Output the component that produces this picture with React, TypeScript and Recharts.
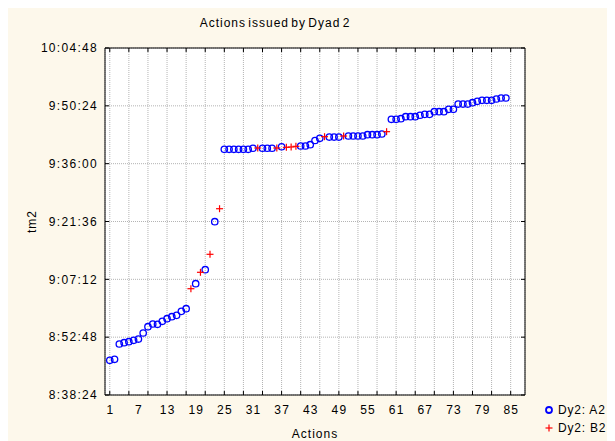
import React from 'react';
import { ScatterChart, Scatter, XAxis, YAxis, CartesianGrid, Legend } from 'recharts';

const TITLE = 'Actions issued by Dyad 2';
const X_LABEL = 'Actions';
const Y_LABEL = 'tm2';
const X_LABEL_TICKS = [1, 7, 13, 19, 25, 31, 37, 43, 49, 55, 61, 67, 73, 79, 85];
const X_MARK_TICKS = [1, 5, 9, 13, 17, 21, 25, 29, 33, 37, 41, 45, 49, 53, 57, 61, 65, 69, 73, 77, 81, 85];
const X_DOMAIN = [0, 88];
const Y_TICK_LABELS = ['8:38:24', '8:52:48', '9:07:12', '9:21:36', '9:36:00', '9:50:24', '10:04:48'];

const SERIES_NAMES = ['Dy2: A2', 'Dy2: B2'];

const A2_ACTIONS = [
  1, 2, 3, 4, 5, 6, 7, 8, 9, 10, 11, 12, 13, 14, 15, 16, 17,
  19, 21, 23,
  25, 26, 27, 28, 29, 30, 31, 33, 34, 35, 37,
  41, 42, 43, 44, 45, 47, 48, 49,
  51, 52, 53, 54, 55, 56, 57, 58,
  60, 61, 62, 63, 64, 65, 66, 67, 68, 69, 70, 71, 72, 73, 74, 75, 76, 77, 78, 79, 80, 81, 82, 83, 84,
];
const A2_TIMES = [
  '8:47:02', '8:47:17', '8:51:06', '8:51:25', '8:51:40', '8:52:01', '8:52:20', '8:53:50', '8:55:24',
  '8:56:05', '8:56:00', '8:56:45', '8:57:24', '8:57:54', '8:58:14', '8:59:14', '8:59:53',
  '9:06:07', '9:09:36', '9:21:33',
  '9:39:35', '9:39:35', '9:39:35', '9:39:35', '9:39:35', '9:39:35', '9:39:50', '9:39:50', '9:39:50', '9:39:50', '9:40:13',
  '9:40:24', '9:40:24', '9:40:43', '9:41:46', '9:42:19', '9:42:38', '9:42:38', '9:42:38',
  '9:42:53', '9:42:53', '9:42:53', '9:42:53', '9:43:13', '9:43:13', '9:43:13', '9:43:23',
  '9:47:03', '9:47:03', '9:47:12', '9:47:42', '9:47:42', '9:47:42', '9:48:03', '9:48:17', '9:48:17',
  '9:48:56', '9:48:56', '9:48:56', '9:49:32', '9:49:32', '9:50:51', '9:50:51', '9:50:51', '9:51:11',
  '9:51:32', '9:51:47', '9:51:47', '9:51:47', '9:52:06', '9:52:21', '9:52:21',
];

const B2_ACTIONS = [18, 20, 22, 24, 32, 36, 38, 39, 40, 46, 50, 59];
const B2_TIMES = [
  '9:04:52', '9:08:57', '9:13:26', '9:24:47', '9:39:54', '9:39:54',
  '9:40:04', '9:40:09', '9:40:19', '9:42:43', '9:42:53', '9:43:58',
];

const FONT = '"Liberation Sans", Arial, sans-serif';
const BG = '#FDF8EB';

const toSec = (s: string) => {
  const [h, m, sec] = s.split(':').map(Number);
  return h * 3600 + m * 60 + sec;
};

const Y_TICKS = Y_TICK_LABELS.map(toSec);
const Y_DOMAIN = [Y_TICKS[0], Y_TICKS[Y_TICKS.length - 1]];
const Y_LABEL_OF: Record<number, string> = {};
Y_TICK_LABELS.forEach((l) => { Y_LABEL_OF[toSec(l)] = l; });

const a2Data = A2_ACTIONS.map((x, i) => ({ x, y: toSec(A2_TIMES[i]) }));
const b2Data = B2_ACTIONS.map((x, i) => ({ x, y: toSec(B2_TIMES[i]) }));

const BOTTOM_TICKS = Array.from(new Set([...X_MARK_TICKS, ...X_LABEL_TICKS])).sort((a, b) => a - b);
const MARK_SET = new Set(X_MARK_TICKS);
const LABEL_SET = new Set(X_LABEL_TICKS);

const textStyle = { fontFamily: FONT, fontSize: 12, fill: '#000', letterSpacing: 1.2 };

const BottomTick = (props: any) => {
  const { x, y, payload } = props;
  const v = payload.value;
  return (
    <g>
      {MARK_SET.has(v) && <line x1={x} x2={x} y1={y} y2={y - 4} stroke="#000" strokeWidth={1} />}
      {LABEL_SET.has(v) && (
        <text x={x + 0.6} y={y + 10} dy="0.71em" textAnchor="middle" style={textStyle}>{v}</text>
      )}
    </g>
  );
};

const TopTick = (props: any) => {
  const { x, y } = props;
  return <line x1={x} x2={x} y1={y} y2={y + 4} stroke="#000" strokeWidth={1} />;
};

const LeftTick = (props: any) => {
  const { x, y, payload } = props;
  return (
    <g>
      <line x1={x} x2={x + 4} y1={y} y2={y} stroke="#000" strokeWidth={1} />
      <text x={x - 7} y={y} dy="0.35em" textAnchor="end" style={{ ...textStyle, letterSpacing: 1.3 }}>
        {Y_LABEL_OF[payload.value] ?? ''}
      </text>
    </g>
  );
};

const RightTick = (props: any) => {
  const { x, y } = props;
  return <line x1={x} x2={x - 4} y1={y} y2={y} stroke="#000" strokeWidth={1} />;
};

const CircleShape = (props: any) => (
  <circle cx={props.cx} cy={props.cy} r={3.2} fill="none" stroke="#0000FF" strokeWidth={1.3} />
);

const PlusShape = (props: any) => {
  const { cx, cy } = props;
  return (
    <g stroke="#FF0000" strokeWidth={1.2}>
      <line x1={cx - 3.5} x2={cx + 3.5} y1={cy} y2={cy} />
      <line x1={cx} x2={cx} y1={cy - 3.5} y2={cy + 3.5} />
    </g>
  );
};

const LegendContent = () => (
  <div style={{ fontFamily: FONT, fontSize: 12, color: '#000', letterSpacing: 0.8, width: 72 }}>
    {SERIES_NAMES.map((name, i) => (
      <div key={name} style={{ display: 'flex', alignItems: 'center', height: 18, whiteSpace: 'nowrap' }}>
        <svg width={12} height={12} style={{ marginRight: 3, flexShrink: 0 }}>
          {i === 0 ? (
            <circle cx={6} cy={6} r={3} fill="none" stroke="#0000FF" strokeWidth={1.8} />
          ) : (
            <g stroke="#FF0000" strokeWidth={1.2}>
              <line x1={2.5} x2={9.5} y1={6} y2={6} />
              <line x1={6} x2={6} y1={2.5} y2={9.5} />
            </g>
          )}
        </svg>
        <span>{name}</span>
      </div>
    ))}
  </div>
);

export default function App() {
  return (
    <div style={{ position: 'relative', width: 607, height: 433, background: BG }}>
      <div
        style={{
          position: 'absolute', left: 117, top: 8, width: 300, textAlign: 'center',
          fontFamily: FONT, fontSize: 12, lineHeight: '14px', letterSpacing: 1, wordSpacing: -2, color: '#000',
        }}
      >
        {TITLE}
      </div>
      <ScatterChart width={607} height={433} margin={{ top: 39, right: 89, left: 0, bottom: 0 }}>
        <CartesianGrid
          xAxisId="top"
          yAxisId={0}
          fill="#FFFFFF"
          stroke="#B4B4B4"
          strokeDasharray="1 1"
        />
        <XAxis
          xAxisId={0}
          type="number"
          dataKey="x"
          domain={X_DOMAIN}
          allowDataOverflow
          ticks={BOTTOM_TICKS}
          interval={0}
          tick={BottomTick}
          tickLine={false}
          tickSize={0}
          tickMargin={0}
          height={46}
          axisLine={{ stroke: '#000', strokeWidth: 1 }}
          label={{ value: X_LABEL, position: 'insideBottom', offset: 3, style: { fontFamily: FONT, fontSize: 12, fill: '#000', letterSpacing: 1 } }}
        />
        <XAxis
          xAxisId="top"
          orientation="top"
          type="number"
          dataKey="x"
          domain={X_DOMAIN}
          allowDataOverflow
          ticks={X_MARK_TICKS}
          interval={0}
          tick={TopTick}
          tickLine={false}
          tickSize={0}
          tickMargin={0}
          height={1}
          axisLine={{ stroke: '#000', strokeWidth: 1 }}
        />
        <YAxis
          yAxisId={0}
          type="number"
          dataKey="y"
          domain={Y_DOMAIN}
          allowDataOverflow
          ticks={Y_TICKS}
          interval={0}
          tick={LeftTick}
          tickLine={false}
          tickSize={0}
          tickMargin={0}
          width={97}
          axisLine={{ stroke: '#000', strokeWidth: 1 }}
          label={{ value: Y_LABEL, angle: -90, position: 'insideLeft', offset: 24, style: { fontFamily: FONT, fontSize: 12, fill: '#000', letterSpacing: 1, textAnchor: 'middle' } }}
        />
        <YAxis
          yAxisId="r"
          orientation="right"
          type="number"
          dataKey="y"
          domain={Y_DOMAIN}
          allowDataOverflow
          ticks={Y_TICKS}
          interval={0}
          tick={RightTick}
          tickLine={false}
          tickSize={0}
          tickMargin={0}
          width={1}
          axisLine={{ stroke: '#000', strokeWidth: 1 }}
        />
        <Legend
          layout="vertical"
          align="center"
          verticalAlign="middle"
          wrapperStyle={{ left: 535, top: 393, width: 72, height: 36, overflow: 'visible' }}
          content={LegendContent}
        />
        <Scatter
          name={SERIES_NAMES[0]}
          data={a2Data}
          xAxisId={0}
          yAxisId={0}
          fill="#0000FF"
          shape={CircleShape}
          isAnimationActive={false}
        />
        <Scatter
          name={SERIES_NAMES[1]}
          data={b2Data}
          xAxisId="top"
          yAxisId="r"
          fill="#FF0000"
          shape={PlusShape}
          isAnimationActive={false}
        />
      </ScatterChart>
    </div>
  );
}
